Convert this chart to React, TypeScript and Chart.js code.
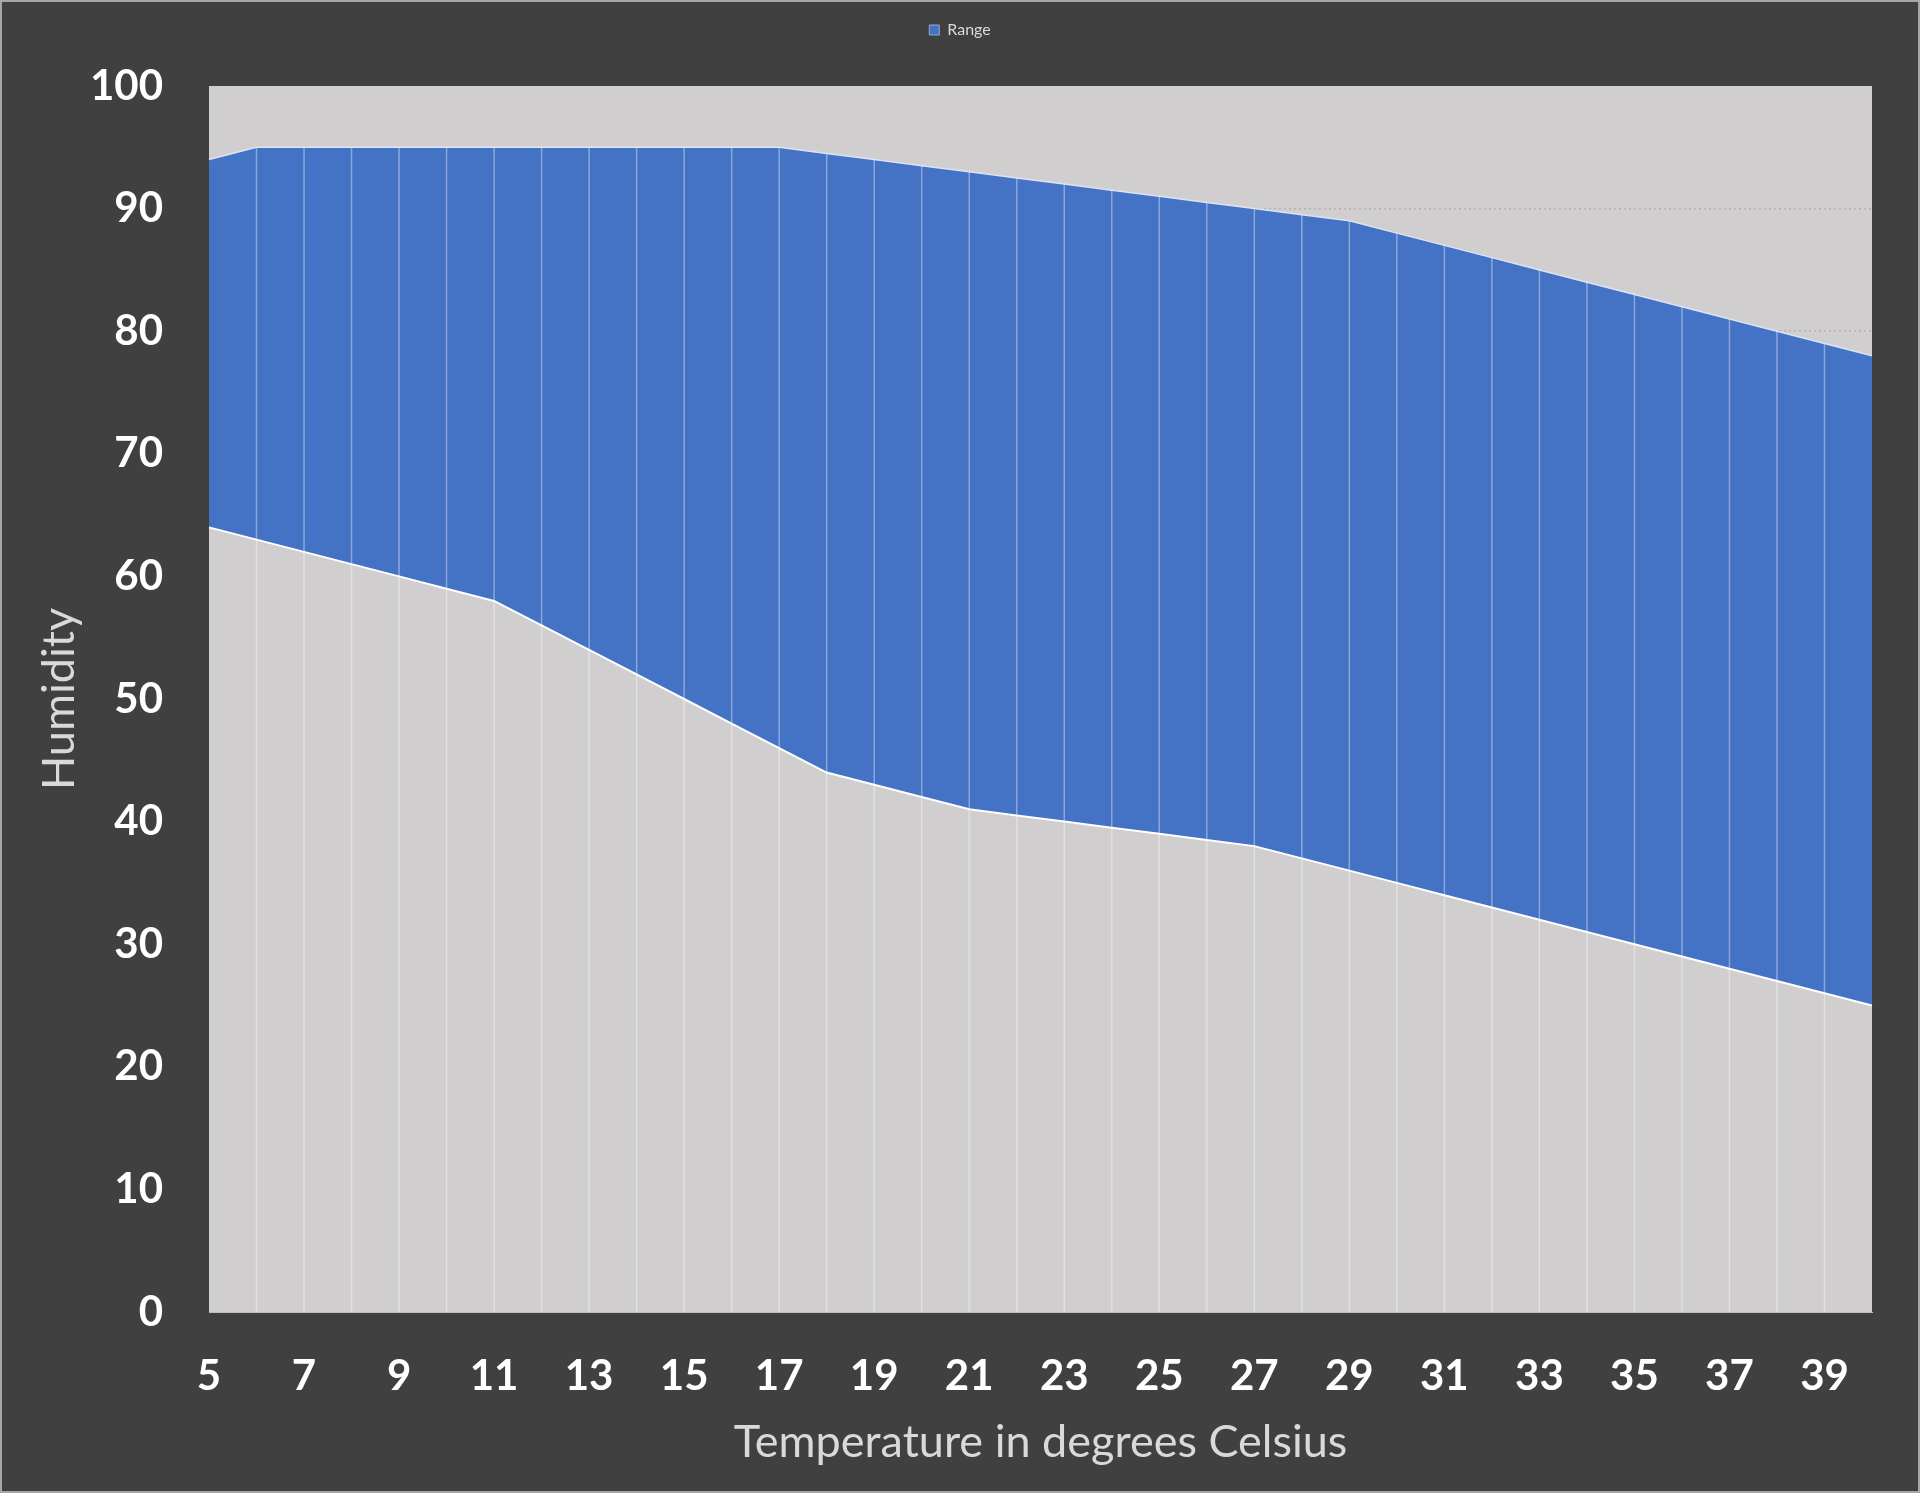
import { useEffect, useRef } from 'react';
import Chart from 'chart.js/auto';

// temperature in degrees Celsius
const temperatures = [
  5, 6, 7, 8, 9, 10, 11, 12, 13, 14, 15, 16, 17, 18, 19, 20, 21, 22,
  23, 24, 25, 26, 27, 28, 29, 30, 31, 32, 33, 34, 35, 36, 37, 38, 39, 40,
];

// lower edge of the humidity range
const lowerHumidity = [
  64, 63, 62, 61, 60, 59, 58, 56, 54, 52, 50, 48, 46, 44, 43, 42, 41, 40.5,
  40, 39.5, 39, 38.5, 38, 37, 36, 35, 34, 33, 32, 31, 30, 29, 28, 27, 26, 25,
];

// upper edge of the humidity range
const upperHumidity = [
  94, 95, 95, 95, 95, 95, 95, 95, 95, 95, 95, 95, 95, 94.5, 94, 93.5, 93, 92.5,
  92, 91.5, 91, 90.5, 90, 89.5, 89, 88, 87, 86, 85, 84, 83, 82, 81, 80, 79, 78,
];

const yTicks = [0, 10, 20, 30, 40, 50, 60, 70, 80, 90, 100];

const FONT = 'Lato, "Open Sans", sans-serif';
const PLOT_BG = '#d0cece';
const BLUE = '#4472c4';

// grey plot area behind the series
const plotBackground = {
  id: 'plotBackground',
  beforeDraw(chart: Chart) {
    const { ctx, chartArea } = chart;
    ctx.save();
    ctx.fillStyle = PLOT_BG;
    ctx.fillRect(chartArea.left, chartArea.top, chartArea.width, chartArea.height);
    ctx.restore();
  },
};

// vertical drop lines from the upper series down to the axis
const dropLines = {
  id: 'dropLines',
  afterDatasetsDraw(chart: Chart) {
    const { ctx, chartArea } = chart;
    const meta = chart.getDatasetMeta(1);
    ctx.save();
    ctx.strokeStyle = 'rgba(255,255,255,0.38)';
    ctx.lineWidth = 1.5;
    meta.data.forEach((pt: any, i: number) => {
      if (i === 0 || i === meta.data.length - 1) return;
      ctx.beginPath();
      ctx.moveTo(pt.x, pt.y);
      ctx.lineTo(pt.x, chartArea.bottom);
      ctx.stroke();
    });
    ctx.restore();
  },
};

// leave room between the legend and the plot
const legendSpace = {
  id: 'legendSpace',
  beforeLayout(chart: any) {
    const lg = chart.legend;
    if (lg && !lg._spaced) {
      const fit = lg.fit.bind(lg);
      lg.fit = function () {
        fit();
        this.height += 38;
      };
      lg._spaced = true;
    }
  },
};

export default function App() {
  const chartRef = useRef<HTMLCanvasElement>(null);
  const chartInstance = useRef<Chart | null>(null);

  useEffect(() => {
    if (!chartRef.current) return;
    if (chartInstance.current) chartInstance.current.destroy();
    const ctx = chartRef.current.getContext('2d');
    if (!ctx) return;

    chartInstance.current = new Chart(ctx, {
      type: 'line',
      data: {
        labels: temperatures.map(String),
        datasets: [
          {
            label: 'Lower',
            data: lowerHumidity,
            fill: 'origin',
            backgroundColor: PLOT_BG,
            borderColor: '#ffffff',
            borderWidth: 2,
            pointRadius: 0,
            tension: 0,
          },
          {
            label: 'Range',
            data: upperHumidity,
            fill: '-1',
            backgroundColor: BLUE,
            borderColor: '#dbe3f4',
            borderWidth: 1.5,
            pointRadius: 0,
            tension: 0,
          },
        ],
      },
      options: {
        responsive: true,
        maintainAspectRatio: false,
        animation: false,
        layout: { padding: { top: 10, right: 46, left: 46, bottom: 0 } },
        plugins: {
          legend: {
            position: 'top',
            labels: {
              color: '#d9d9d9',
              font: { family: FONT, size: 16 },
              boxWidth: 10,
              boxHeight: 10,
              padding: 10,
              generateLabels: () => [
                {
                  text: 'Range',
                  fillStyle: BLUE,
                  strokeStyle: '#8faadc',
                  lineWidth: 1,
                  fontColor: '#d9d9d9',
                  datasetIndex: 1,
                  hidden: false,
                },
              ],
            },
          },
          tooltip: { enabled: false },
        },
        scales: {
          x: {
            grid: { display: false },
            border: { display: true, color: '#bfbfbf', width: 1 },
            offset: false,
            ticks: {
              autoSkip: false,
              maxRotation: 0,
              color: '#ffffff',
              padding: 31,
              font: { family: FONT, size: 42, weight: 'bold' },
              callback: (_v, i) => (i % 2 === 0 ? String(temperatures[i]) : ''),
            },
            title: {
              display: true,
              text: 'Temperature in degrees Celsius',
              color: '#d9d9d9',
              font: { family: FONT, size: 45 },
              padding: { top: 0, bottom: 22 },
            },
            afterFit: (scale) => {
              scale.height = 179;
            },
          },
          y: {
            min: yTicks[0],
            max: yTicks[yTicks.length - 1],
            afterBuildTicks: (scale) => {
              scale.ticks = yTicks.map((v) => ({ value: v }));
            },
            grid: {
              color: (c) => (c.tick && c.tick.value === 100 ? 'rgba(0,0,0,0)' : '#b3b3b3'),
              lineWidth: 1.5,
              drawTicks: false,
            },
            border: { display: false, dash: [2, 3] },
            ticks: {
              color: '#ffffff',
              padding: 46,
              font: { family: FONT, size: 42, weight: 'bold' },
            },
            title: {
              display: true,
              text: 'Humidity',
              color: '#d9d9d9',
              font: { family: FONT, size: 45, lineHeight: 0.5 },
              padding: { top: 0, bottom: 30 },
            },
            afterFit: (scale) => {
              scale.width = 161;
            },
          },
        },
      },
      plugins: [plotBackground, dropLines, legendSpace],
    });

    return () => {
      if (chartInstance.current) {
        chartInstance.current.destroy();
        chartInstance.current = null;
      }
    };
  }, []);

  return (
    <div
      style={{
        position: 'absolute',
        left: 0,
        top: 0,
        width: 1920,
        height: 1493,
        boxSizing: 'border-box',
        border: '2px solid #a6a6a6',
        background: '#404040',
      }}
    >
      <div style={{ position: 'relative', width: '100%', height: '100%' }}>
        <canvas ref={chartRef} />
      </div>
    </div>
  );
}
